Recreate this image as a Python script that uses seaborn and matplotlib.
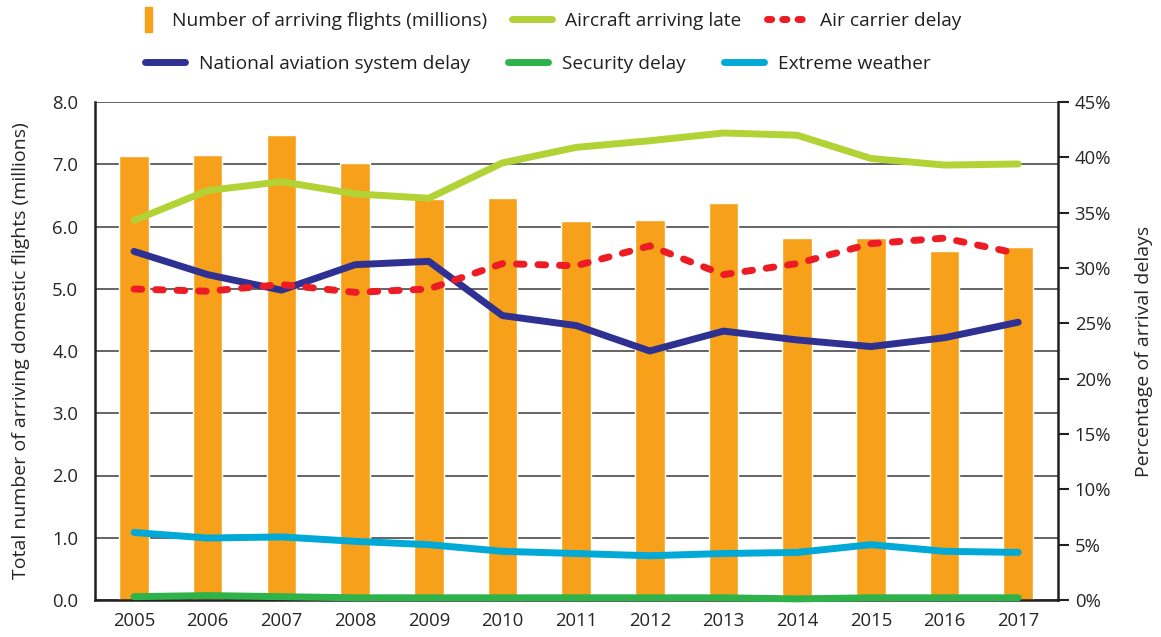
import numpy as np
import pandas as pd
import matplotlib
matplotlib.use("Agg")
import matplotlib.pyplot as plt
import matplotlib.patches as mpatches
from matplotlib.lines import Line2D
from matplotlib.legend_handler import HandlerPatch
from matplotlib.ticker import FuncFormatter
import seaborn as sns

# ---------------- data ----------------
years = ["2005", "2006", "2007", "2008", "2009", "2010", "2011",
         "2012", "2013", "2014", "2015", "2016", "2017"]
flights_millions = [7.13, 7.15, 7.47, 7.02, 6.44, 6.45, 6.09,
                    6.10, 6.38, 5.82, 5.82, 5.61, 5.67]
aircraft_late = [34.3, 37.0, 37.8, 36.7, 36.3, 39.5, 40.9,
                 41.5, 42.2, 42.0, 39.9, 39.3, 39.4]
air_carrier = [28.1, 27.9, 28.5, 27.8, 28.1, 30.4, 30.2,
               32.0, 29.4, 30.4, 32.2, 32.7, 31.3]
nas_delay = [31.5, 29.4, 28.0, 30.3, 30.6, 25.7, 24.8,
             22.5, 24.3, 23.5, 22.9, 23.7, 25.1]
security = [0.3, 0.4, 0.3, 0.2, 0.2, 0.2, 0.2,
            0.2, 0.2, 0.1, 0.2, 0.2, 0.2]
extreme_weather = [6.1, 5.6, 5.7, 5.3, 5.0, 4.4, 4.2,
                   4.0, 4.2, 4.3, 5.0, 4.4, 4.3]

left_ticks = [0, 1, 2, 3, 4, 5, 6, 7, 8]
right_ticks = [0, 5, 10, 15, 20, 25, 30, 35, 40, 45]

# ---------------- style ----------------
sns.set_style("white")
plt.rcParams["font.family"] = ["Open Sans", "DejaVu Sans"]
plt.rcParams["text.color"] = "#231f20"

C_BAR = "#F7A11A"
C_LATE = "#B2D235"
C_CARRIER = "#ED1C24"
C_NAS = "#2E3192"
C_SEC = "#2DB34A"
C_WX = "#00A9D6"

FS_TICK = 13.3
FS_LAB = 14
FS_LEG = 13.8

fig = plt.figure(figsize=(11.61, 6.37), dpi=100)
ax = fig.add_axes([95 / 1161, 37 / 637, (1058 - 95) / 1161, (600 - 102) / 637])

df_bar = pd.DataFrame({"year": years, "flights": flights_millions})
sns.barplot(data=df_bar, x="year", y="flights", color=C_BAR, width=0.4,
            saturation=1, ax=ax, zorder=2)

ax.set_ylim(0, 8)
ax.set_yticks(left_ticks)
ax.yaxis.set_major_formatter(FuncFormatter(lambda v, p: f"{v:.1f}"))
ax.set_xlim(-0.53, 12.54)
ax.set_axisbelow(True)
ax.yaxis.grid(True, color="#3a3a3a", linewidth=1.1, zorder=0)
ax.xaxis.grid(False)
ax.set_xlabel("")
ax.set_ylabel("Total number of arriving domestic flights (millions)",
              fontsize=FS_LAB, labelpad=16)
ax.tick_params(axis="y", length=0, labelsize=FS_TICK, pad=12)
ax.tick_params(axis="x", length=0, labelsize=FS_TICK, pad=9)
for s in ["top", "right"]:
    ax.spines[s].set_visible(False)
for s in ["left", "bottom"]:
    ax.spines[s].set_color("#231f20")
    ax.spines[s].set_linewidth(1.8)

ax2 = ax.twinx()
df_lines = pd.DataFrame({
    "year": years,
    "late": aircraft_late,
    "carrier": air_carrier,
    "nas": nas_delay,
    "security": security,
    "weather": extreme_weather,
})
LW = 5
sns.lineplot(data=df_lines, x="year", y="late", color=C_LATE, lw=LW, ax=ax2,
             solid_capstyle="round")
sns.lineplot(data=df_lines, x="year", y="nas", color=C_NAS, lw=LW, ax=ax2,
             solid_capstyle="round")
sns.lineplot(data=df_lines, x="year", y="weather", color=C_WX, lw=LW, ax=ax2,
             solid_capstyle="round")
sns.lineplot(data=df_lines, x="year", y="security", color=C_SEC, lw=LW, ax=ax2,
             solid_capstyle="round", clip_on=False)
sns.lineplot(data=df_lines, x="year", y="carrier", color=C_CARRIER, lw=LW, ax=ax2,
             linestyle=(0, (1.1, 2.0)), dash_capstyle="round")

ax2.set_ylim(0, 45)
ax2.set_yticks(right_ticks)
ax2.yaxis.set_major_formatter(FuncFormatter(lambda v, p: f"{int(v)}%"))
ax2.set_xlim(-0.53, 12.54)
ax2.set_xlabel("")
ax2.set_ylabel("Percentage of arrival delays", fontsize=FS_LAB, labelpad=17)
ax2.tick_params(axis="y", length=8, width=1.5, color="#231f20",
                labelsize=FS_TICK, pad=4, direction="out")
for s in ["top", "left", "bottom"]:
    ax2.spines[s].set_visible(False)
ax2.spines["right"].set_color("#231f20")
ax2.spines["right"].set_linewidth(1.8)
ax2.grid(False)


# ---------------- legend ----------------
def make_bar_handle(legend, orig_handle, xdescent, ydescent, width, height, fontsize):
    return mpatches.Rectangle((-xdescent + 0.66 * width, -ydescent - 0.45 * height),
                              0.18 * width, 1.9 * height)


h_bar = mpatches.Patch(color=C_BAR)
h_late = Line2D([], [], color=C_LATE, lw=LW, solid_capstyle="round")
h_carrier = Line2D([], [], color=C_CARRIER, lw=LW, linestyle=(0, (0.6, 1.6)),
                   dash_capstyle="round")
h_nas = Line2D([], [], color=C_NAS, lw=LW, solid_capstyle="round")
h_sec = Line2D([], [], color=C_SEC, lw=LW, solid_capstyle="round")
h_wx = Line2D([], [], color=C_WX, lw=LW, solid_capstyle="round")

leg_kw = dict(frameon=False, fontsize=FS_LEG, handlelength=2.1, handletextpad=0.7,
              borderpad=0, borderaxespad=0, loc="center left")
leg1 = fig.legend([h_bar, h_late, h_carrier],
                  ["Number of arriving flights (millions)", "Aircraft arriving late",
                   "Air carrier delay"],
                  ncol=3, columnspacing=1.3,
                  handler_map={mpatches.Patch: HandlerPatch(patch_func=make_bar_handle)},
                  bbox_to_anchor=(118 / 1161, 1 - 21 / 637), **leg_kw)
leg2 = fig.legend([h_nas, h_sec, h_wx],
                  ["National aviation system delay", "Security delay", "Extreme weather"],
                  ncol=3, columnspacing=2.0,
                  bbox_to_anchor=(145 / 1161, 1 - 64 / 637), **leg_kw)

fig.savefig("out.png", dpi=100, facecolor="white")
